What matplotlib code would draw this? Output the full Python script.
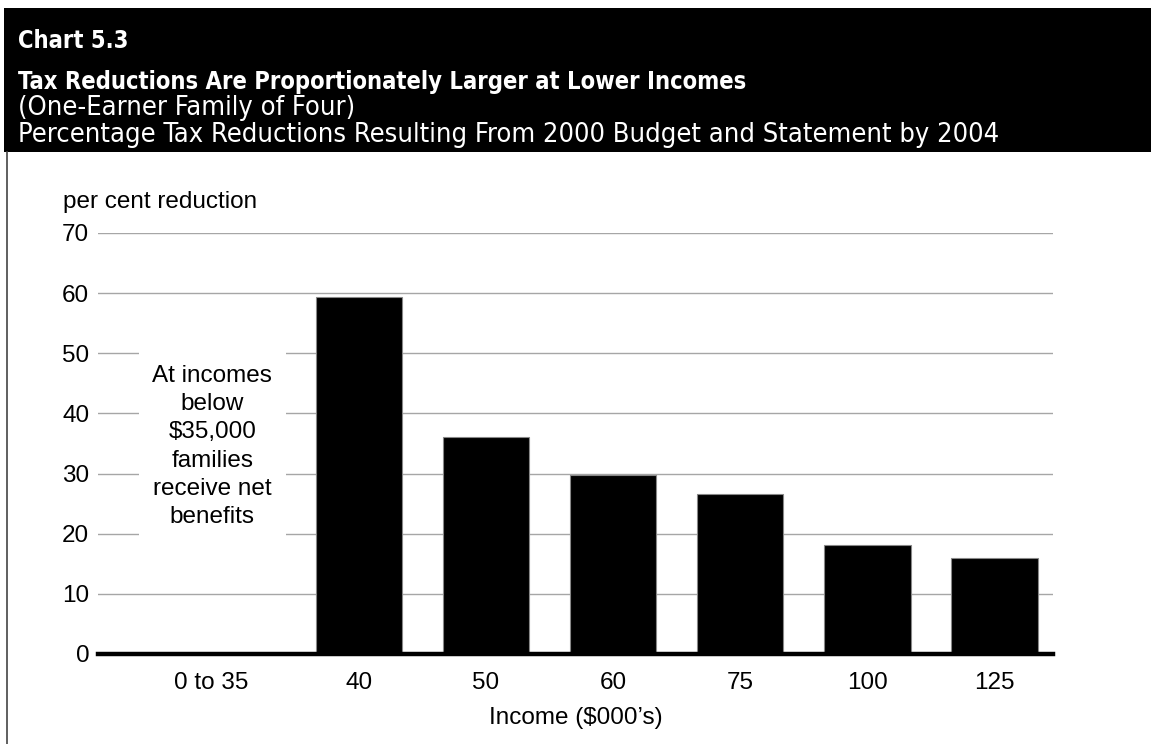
import matplotlib
matplotlib.use("Agg")
import matplotlib.pyplot as plt
from matplotlib.patches import Rectangle
from matplotlib.lines import Line2D

# data
categories = ["0 to 35", "40", "50", "60", "75", "100", "125"]
reductions = [0.0, 59.3, 36.1, 29.8, 26.6, 18.1, 16.0]
yticks = [0, 10, 20, 30, 40, 50, 60, 70]

chart_no = "Chart 5.3"
title = "Tax Reductions Are Proportionately Larger at Lower Incomes"
sub1 = "(One-Earner Family of Four)"
sub2 = "Percentage Tax Reductions Resulting From 2000 Budget and Statement by 2004"
note = "At incomes\nbelow\n$35,000\nfamilies\nreceive net\nbenefits"

body = ["Liberation Sans", "DejaVu Sans"]
plt.rcParams["font.family"] = body
fs = 17.5

W, H = 1151, 744
fig = plt.figure(figsize=(W / 100, H / 100), dpi=100)

# black header band and frame line on the left
fig.patches.append(Rectangle((4 / W, 1 - 152 / H), 1 - 4 / W, 144 / H,
                             transform=fig.transFigure, facecolor="black",
                             edgecolor="none"))
fig.lines.append(Line2D([7 / W, 7 / W], [0, 1 - 152 / H], transform=fig.transFigure,
                        color="#444444", lw=1.2))

head = dict(color="white", family="DejaVu Sans", fontstretch="condensed", va="baseline")
fig.text(18 / W, 1 - 48 / H, chart_no, fontsize=17, fontweight="bold", **head)
fig.text(18 / W, 1 - 89 / H, title, fontsize=17, fontweight="bold", **head)
fig.text(18 / W, 1 - 115 / H, sub1, fontsize=19.5, **head)
fig.text(18 / W, 1 - 142 / H, sub2, fontsize=19.5, **head)

ax = fig.add_axes([98.3 / W, 90 / H, (1053 - 98.3) / W, (654 - 233) / H])
x = list(range(len(categories)))
ax.bar(x, reductions, width=0.68, color="black", edgecolor="#888888", lw=0.8, zorder=3)
ax.set_xlim(-1.05, 6.46)
ax.set_ylim(0, 70)
ax.set_yticks(yticks)
ax.grid(axis="y", color="#a6a6a6", lw=1.0, zorder=0)
ax.axhline(0, color="black", lw=3.2, zorder=4, clip_on=False)
for s in ax.spines.values():
    s.set_visible(False)
ax.tick_params(length=0, labelsize=fs)
ax.tick_params(axis="y", pad=6.5)
ax.tick_params(axis="x", pad=13)

tick_pos = [-0.16] + x[1:]
ax.set_xticks(tick_pos)
ax.set_xticklabels(categories)
ax.set_xlabel("Income ($000\u2019s)", fontsize=fs, labelpad=9)

fig.text(63 / W, 1 - 202 / H, "per cent reduction", fontsize=fs, va="center", ha="left")

ax.text(-0.153, 34.5, note, ha="center", va="center", fontsize=fs, linespacing=1.37,
        zorder=5, bbox=dict(facecolor="white", edgecolor="none", pad=10))

fig.savefig("out.png", dpi=100)
